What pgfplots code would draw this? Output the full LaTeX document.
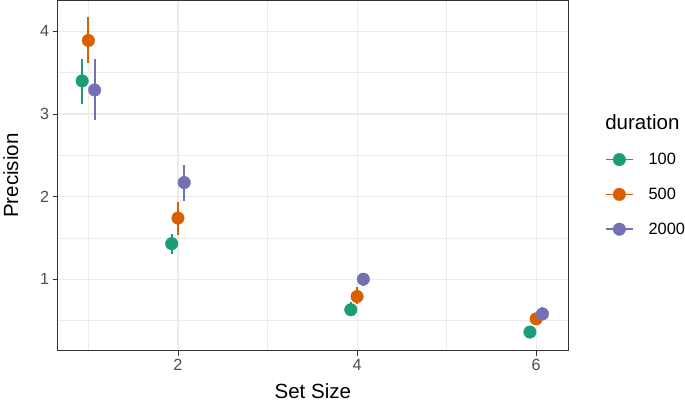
\documentclass[border=0pt]{standalone}
\usepackage{pgfplots}
\pgfplotsset{compat=1.18}
\usepackage{pgfplotstable}
\usepackage{fontspec}
\setmainfont{Liberation Sans}
\definecolor{cgreen}{HTML}{1B9E77}
\definecolor{corange}{HTML}{D95F02}
\definecolor{cpurple}{HTML}{7570B3}
\definecolor{gridc}{HTML}{EBEBEB}
\definecolor{txtc}{HTML}{4D4D4D}
\definecolor{axc}{HTML}{333333}

\pgfplotstableread{
x y ep em
0.93 3.40 0.27 0.28
1.93 1.43 0.12 0.13
3.93 0.63 0.09 0.08
5.93 0.36 0.04 0.03
}\tgreen
\pgfplotstableread{
x y ep em
1.00 3.89 0.28 0.27
2.00 1.74 0.19 0.21
4.00 0.79 0.11 0.09
6.00 0.52 0.06 0.06
}\torange
\pgfplotstableread{
x y ep em
1.07 3.29 0.38 0.36
2.07 2.17 0.21 0.22
4.07 1.00 0.08 0.08
6.07 0.58 0.08 0.06
}\tpurple

\begin{document}
\begin{tikzpicture}
\begin{axis}[
  scale only axis, width=513bp, height=352bp,
  clip mode=individual,
  xmin=0.656, xmax=6.356, ymin=0.133, ymax=4.373,
  xtick={2,4,6}, ytick={1,2,3,4},
  minor xtick={1,3,5}, minor ytick={0.5,1.5,2.5,3.5},
  grid=both,
  major grid style={color=gridc, line width=1.1bp},
  minor grid style={color=gridc, line width=0.55bp},
  axis line style={color=axc, line width=1.1bp},
  tick style={color=axc, line width=0.8bp},
  tick align=outside, major tick length=5bp, minor tick length=0pt,
  tick pos=left,
  ticklabel style={font=\fontsize{16.3}{18}\selectfont, color=txtc},
  /pgf/number format/assume math mode=true,
  xlabel={Set Size}, ylabel={Precision},
  label style={font=\fontsize{20.7}{24}\selectfont},
  xlabel style={at={(axis description cs:0.5,-0.1165)}, anchor=center},
  ylabel style={at={(axis description cs:-0.0916,0.5)}, anchor=center},
  error bars/y dir=both, error bars/y explicit,
  legend style={at={(1.072,0.565)}, anchor=north west, draw=none, fill=none,
    font=\fontsize{16.5}{18}\selectfont, row sep=22bp, column sep=15bp,
    inner sep=0pt, nodes={inner sep=0pt}},
  legend cell align=left,
  legend image code/.code={
    \draw[line width=1.8bp] (0bp,0bp) -- (27bp,0bp);
    \fill (13.5bp,0bp) circle (6.3bp);
  },
]
\addplot[only marks, mark=*, mark size=6.3bp, color=cgreen,
  error bars/error bar style={line width=2bp, color=cgreen}, error bars/error mark=none]
  table[x=x, y=y, y error plus=ep, y error minus=em] {\tgreen};
\addlegendentry{100}
\addplot[only marks, mark=*, mark size=6.3bp, color=corange,
  error bars/error bar style={line width=2bp, color=corange}, error bars/error mark=none]
  table[x=x, y=y, y error plus=ep, y error minus=em] {\torange};
\addlegendentry{500}
\addplot[only marks, mark=*, mark size=6.3bp, color=cpurple,
  error bars/error bar style={line width=2bp, color=cpurple}, error bars/error mark=none]
  table[x=x, y=y, y error plus=ep, y error minus=em] {\tpurple};
\addlegendentry{2000}
\node[anchor=west, font=\fontsize{20.7}{24}\selectfont] at (axis description cs:1.066,0.653) {duration};
\end{axis}
\end{tikzpicture}
\end{document}
